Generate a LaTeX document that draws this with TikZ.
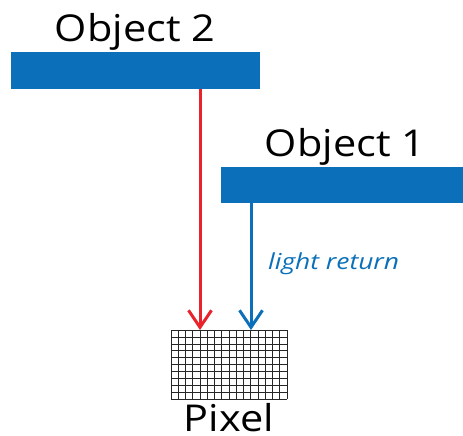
\documentclass[tikz,border=0pt]{standalone}
\usepackage{fontspec}
\setmainfont{Open Sans}
\newfontfamily\widefont[FakeStretch=1.12]{Open Sans}
\newfontfamily\wideitfont[FakeStretch=1.2]{Open Sans Italic}
\usetikzlibrary{arrows.meta}
\definecolor{objblue}{HTML}{0B70B9}
\definecolor{rayred}{HTML}{E8232B}
\tikzset{
  objbar/.style={fill=objblue, draw=none},
  objlabel/.style={font=\widefont\fontsize{37}{44}\selectfont, inner sep=0pt},
  ray/.style={line width=3pt, -{Straight Barb[length=17pt,width=23pt,line width=3pt]}},
}
\begin{document}
\begin{tikzpicture}[x=1pt,y=-1pt]
\useasboundingbox (0,0) rectangle (463,436);
% objects
\fill[objbar] (11,52) rectangle (260,89);
\coordinate (o2) at (200,89);
\fill[objbar] (221,167) rectangle (463,203);
\coordinate (o1) at (251,203);
\node[objlabel, anchor=base] (l2) at (135,42) {Object 2};
\node[objlabel, anchor=base] (l1) at (345,156) {Object 1};
% pixel grid, 16 x 10 cells
\foreach \i in {0,...,16}
  \draw[line width=0.6pt, black!85] ({171+\i*7.25},330) -- ({171+\i*7.25},399);
\foreach \j in {0,...,10}
  \draw[line width=0.6pt, black!85] (171,{330+\j*6.9}) -- (287,{330+\j*6.9});
\coordinate (p2) at (200,330);
\coordinate (p1) at (251,330);
\node[objlabel, anchor=base] (pix) at (229,431) {Pixel};
% rays
\draw[ray, rayred] (o2) -- (p2);
\draw[ray, objblue] (o1) -- (p1);
\node[anchor=base west, text=objblue, font=\wideitfont\fontsize{22}{26}\selectfont, inner sep=0pt] (lr) at (268,269) {light return};
\end{tikzpicture}
\end{document}
